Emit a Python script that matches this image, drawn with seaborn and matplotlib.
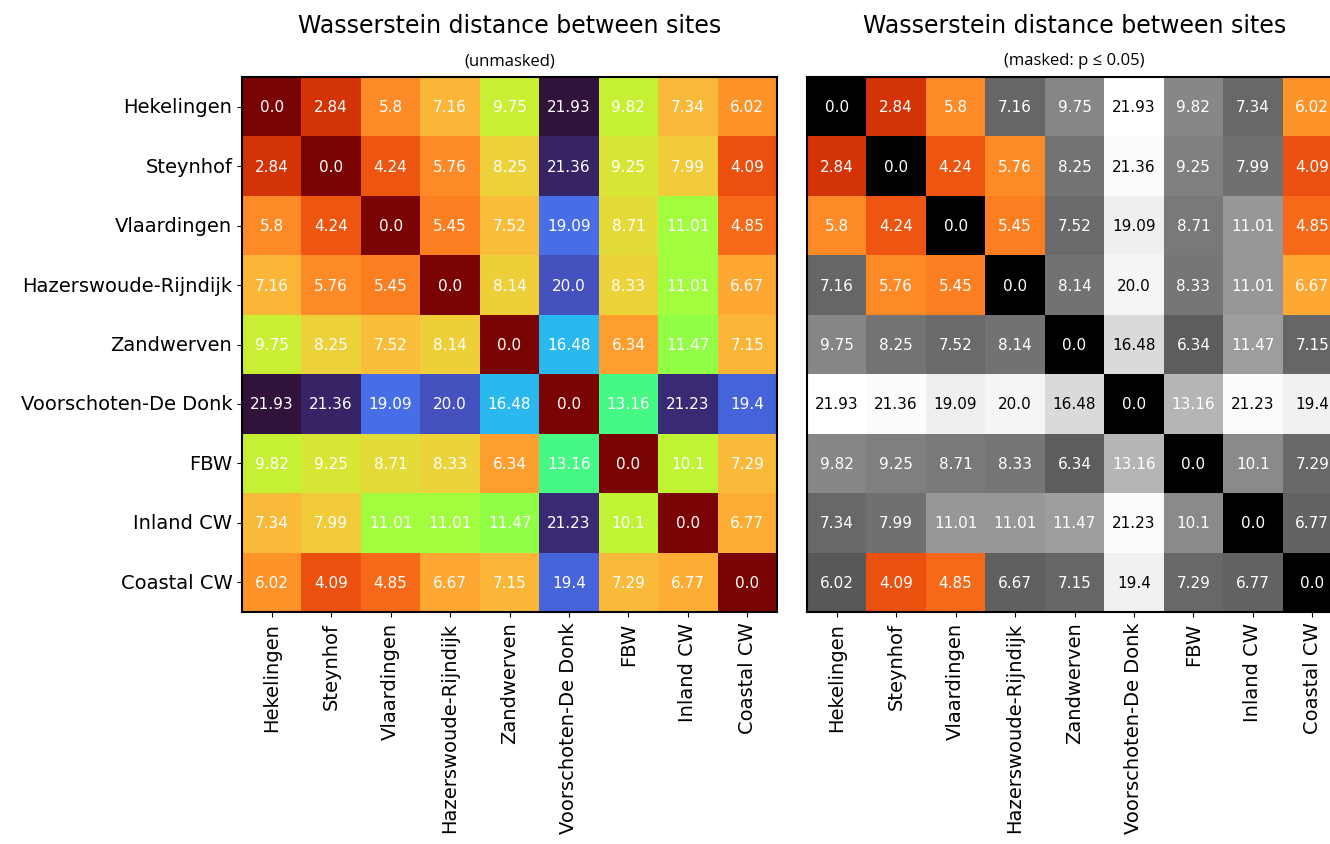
import numpy as np
import matplotlib
matplotlib.use("Agg")
import matplotlib.pyplot as plt
import seaborn as sns

sites = ["Hekelingen", "Steynhof", "Vlaardingen", "Hazerswoude-Rijndijk",
         "Zandwerven", "Voorschoten-De Donk", "FBW", "Inland CW", "Coastal CW"]

# pairwise Wasserstein distances (rows/cols follow `sites`)
distances = [
    [0.0, 2.84, 5.8, 7.16, 9.75, 21.93, 9.82, 7.34, 6.02],
    [2.84, 0.0, 4.24, 5.76, 8.25, 21.36, 9.25, 7.99, 4.09],
    [5.8, 4.24, 0.0, 5.45, 7.52, 19.09, 8.71, 11.01, 4.85],
    [7.16, 5.76, 5.45, 0.0, 8.14, 20.0, 8.33, 11.01, 6.67],
    [9.75, 8.25, 7.52, 8.14, 0.0, 16.48, 6.34, 11.47, 7.15],
    [21.93, 21.36, 19.09, 20.0, 16.48, 0.0, 13.16, 21.23, 19.4],
    [9.82, 9.25, 8.71, 8.33, 6.34, 13.16, 0.0, 10.1, 7.29],
    [7.34, 7.99, 11.01, 11.01, 11.47, 21.23, 10.1, 0.0, 6.77],
    [6.02, 4.09, 4.85, 6.67, 7.15, 19.4, 7.29, 6.77, 0.0],
]

# cells with p <= 0.05 (shown in colour on the masked panel)
significant = [
    [0, 1, 1, 0, 0, 0, 0, 0, 1],
    [1, 0, 1, 1, 0, 0, 0, 0, 1],
    [1, 1, 0, 1, 0, 0, 0, 0, 1],
    [0, 1, 1, 0, 0, 0, 0, 0, 1],
    [0, 0, 0, 0, 0, 0, 0, 0, 0],
    [0, 0, 0, 0, 0, 0, 0, 0, 0],
    [0, 0, 0, 0, 0, 0, 0, 0, 0],
    [0, 0, 0, 0, 0, 0, 0, 0, 0],
    [0, 1, 1, 0, 0, 0, 0, 0, 0],
]

title = "Wasserstein distance between sites"
subtitles = ["(unmasked)", "(masked: p \u2264 0.05)"]

D = np.array(distances)
sig = np.array(significant).astype(bool)
labels = np.array([[str(v) for v in row] for row in distances])
vmax = D.max()

W, H = 1330, 845
fig = plt.figure(figsize=(W / 100, H / 100), dpi=100)
ax1 = fig.add_axes([242 / W, 1 - 613 / H, 535 / W, 535 / H])
ax2 = fig.add_axes([807 / W, 1 - 613 / H, 535 / W, 535 / H])

kw = dict(vmin=0, vmax=vmax, cbar=False, fmt="", xticklabels=sites)

sns.heatmap(D, ax=ax1, cmap="turbo_r", annot=labels, yticklabels=sites,
            annot_kws={"color": "white", "fontsize": 11}, **kw)

# masked panel: non-significant cells in greys, significant ones in colour
dark = ~sig & (D <= 15)
light = ~sig & (D > 15)
sns.heatmap(D, ax=ax2, cmap="Greys_r", mask=~dark, annot=labels, yticklabels=False,
            annot_kws={"color": "white", "fontsize": 11}, **kw)
sns.heatmap(D, ax=ax2, cmap="Greys_r", mask=~light, annot=labels, yticklabels=False,
            annot_kws={"color": "black", "fontsize": 11}, **kw)
sns.heatmap(D, ax=ax2, cmap="turbo_r", mask=~sig, annot=labels, yticklabels=False,
            annot_kws={"color": "white", "fontsize": 11}, **kw)

for ax, sub in zip([ax1, ax2], subtitles):
    for s in ax.spines.values():
        s.set_visible(True)
        s.set_linewidth(1.5)
    ax.tick_params(axis="x", labelsize=14, rotation=90)
    ax.tick_params(axis="y", labelsize=14, rotation=0)
    pos = ax.get_position()
    cx = (pos.x0 + pos.x1) / 2
    fig.text(cx, 1 - 33 / H, title, ha="center", va="baseline", fontsize=17)
    fig.text(cx, 1 - 65 / H, sub, ha="center", va="baseline", fontsize=12,
             family=["Open Sans", "DejaVu Sans"])

ax2.tick_params(axis="y", left=False)

fig.savefig("out.png", dpi=100)
